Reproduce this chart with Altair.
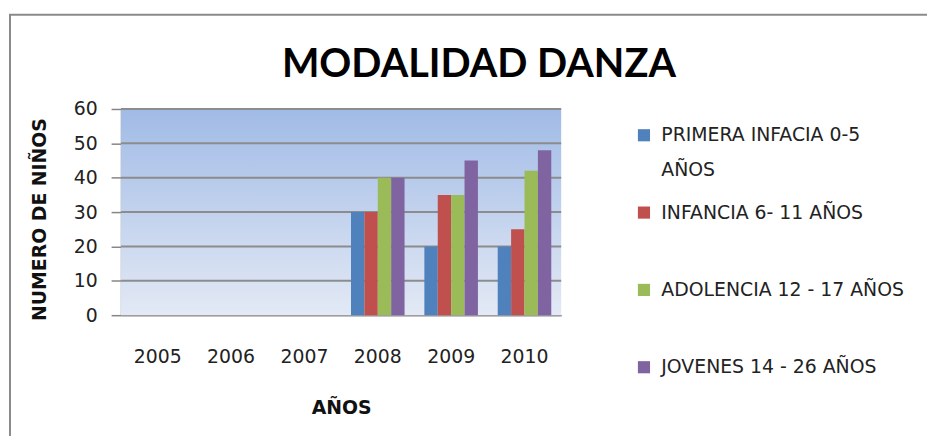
import altair as alt
import pandas as pd

years = ["2005", "2006", "2007", "2008", "2009", "2010"]
series = [
    "PRIMERA INFACIA 0-5 AÑOS",
    "INFANCIA  6- 11 AÑOS",
    "ADOLENCIA 12 - 17 AÑOS",
    "JOVENES 14 - 26 AÑOS",
]
primera = [0, 0, 0, 30, 20, 20]
infancia = [0, 0, 0, 30, 35, 25]
adolencia = [0, 0, 0, 40, 35, 42]
jovenes = [0, 0, 0, 40, 45, 48]
colors = ["#4f81bd", "#c0504d", "#9bbb59", "#8064a2"]
y_ticks = [0, 10, 20, 30, 40, 50, 60]

rows = []
for name, vals in zip(series, [primera, infancia, adolencia, jovenes]):
    for yr, v in zip(years, vals):
        rows.append({"year": yr, "serie": name, "value": v})
df = pd.DataFrame(rows)

W, H = 444, 208
FONT = "DejaVu Sans"

y_axis = alt.Axis(title="NUMERO DE NIÑOS", values=y_ticks, grid=False,
                  tickSize=10, tickColor="#868686", tickWidth=1.5,
                  domainColor="#868686", domainWidth=1.5, labelPadding=14,
                  labelFontSize=19, labelColor="#222", labelFont=FONT,
                  titleFont=FONT, titleFontSize=19, titleFontWeight="bold",
                  titleColor="#111", titleX=-82, titleY=111, titleAngle=-90,
                  titleAlign="center", titleBaseline="middle")
y_scale = alt.Scale(domain=[0, 60])

frame = alt.Chart(pd.DataFrame({"a": [0]})).mark_rect(
    fill=None, stroke="#8a8a8a", strokeWidth=2
).encode(x=alt.value(-112), x2=alt.value(1000), y=alt.value(-95), y2=alt.value(500))

bg = alt.Chart(pd.DataFrame({"a": [0]})).mark_rect(
    color=alt.Gradient(
        gradient="linear",
        stops=[alt.GradientStop(color="#a1bbe6", offset=0),
               alt.GradientStop(color="#e3e9f5", offset=1)],
        x1=0, x2=0, y1=0, y2=1,
    )
).encode(x=alt.value(0), x2=alt.value(W), y=alt.value(0), y2=alt.value(H))

grid = alt.Chart(pd.DataFrame({"value": y_ticks[1:]})).mark_rule(
    color="#8c8c8c", strokeWidth=2
).encode(
    y=alt.Y("value:Q", axis=y_axis, scale=y_scale),
    x=alt.value(0), x2=alt.value(W),
)

legend_expr = (
    "datum.label == 'PRIMERA INFACIA 0-5 AÑOS' ? ['PRIMERA INFACIA 0-5', 'AÑOS'] "
    ": [datum.label, ' ']"
)

bars = alt.Chart(df).mark_bar().encode(
    x=alt.X("year:N", sort=years,
            scale=alt.Scale(domain=years, paddingInner=0.27, paddingOuter=0.135),
            axis=alt.Axis(title="AÑOS", labelAngle=0, tickSize=0, labelPadding=33,
                          labelFontSize=19, labelColor="#222", labelFont=FONT,
                          titleFont=FONT, titleFontSize=19, titleFontWeight="bold",
                          titleColor="#111", titleY=93, titleBaseline="middle",
                          domainColor="#868686", domainWidth=1.5)),
    xOffset=alt.XOffset("serie:N", sort=series,
                        scale=alt.Scale(domain=series, paddingInner=0, paddingOuter=0)),
    y=alt.Y("value:Q", scale=y_scale, axis=y_axis),
    color=alt.Color("serie:N", sort=series,
                    scale=alt.Scale(domain=series, range=colors),
                    legend=alt.Legend(
                        title=None, orient="none", legendX=518, legendY=17,
                        symbolType="square", symbolSize=150, symbolStrokeWidth=0,
                        labelFontSize=19, labelFont=FONT, labelColor="#222",
                        labelLimit=400, rowPadding=23, labelOffset=8,
                        labelExpr=legend_expr,
                    )),
)

chart = alt.layer(frame, bg, grid, bars).properties(
    width=W, height=H,
    padding={"left": 114, "top": 100, "right": 369, "bottom": 120},
    autosize=alt.AutoSizeParams(type="none"),
    title=alt.Title("MODALIDAD DANZA", fontSize=40, font="Lato", fontWeight="bold",
                    color="#000", anchor="middle", dx=139, dy=72, offset=0),
).configure(style={"guide-label": {"lineHeight": 35}}).configure_view(stroke=None)

chart.save("out.html", embed_options={"renderer": "svg", "actions": False})
